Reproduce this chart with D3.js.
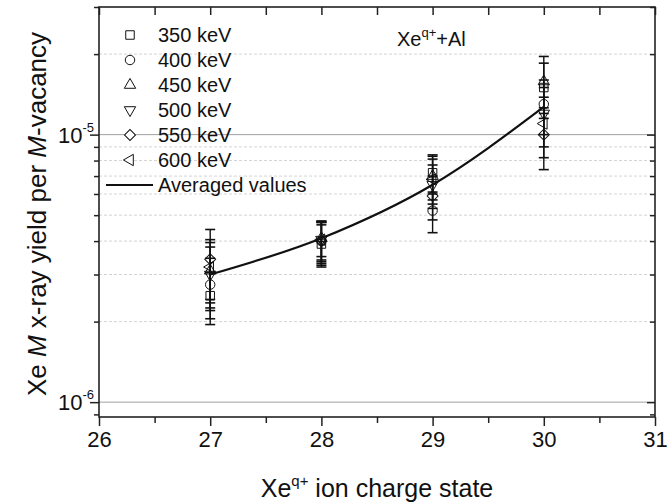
<!DOCTYPE html>
<html lang="en">
  <head>
    <meta charset="utf-8" />
    <title>Xe M x-ray yield</title>
    <script src="https://d3js.org/d3.v7.min.js"></script>
    <style>
      body { margin: 0; background: white; }
      text { font-family: "Liberation Sans", Arial, sans-serif; fill: #111; }
    </style>
  </head>
  <body>
    <svg width="668" height="504"></svg>
    <script>
      // data
      const charges = [27, 28, 29, 30];
      const energies = ["350 keV", "400 keV", "450 keV", "500 keV", "550 keV", "600 keV"];
      const yield350 = [2.5e-6, 3.9e-6, 7.2e-6, 1.5e-5];
      const yield400 = [2.75e-6, 4.0e-6, 5.2e-6, 1.3e-5];
      const yield450 = [3.1e-6, 4.1e-6, 7.0e-6, 1.58e-5];
      const yield500 = [3.0e-6, 4.05e-6, 6.5e-6, 1.2e-5];
      const yield550 = [3.42e-6, 4.0e-6, 5.9e-6, 1.0e-5];
      const yield600 = [3.2e-6, 4.05e-6, 6.8e-6, 1.1e-5];
      const err350 = [0.55e-6, 0.7e-6, 1.2e-6, 3.5e-6];
      const err400 = [0.7e-6, 0.7e-6, 0.9e-6, 3.0e-6];
      const err450 = [0.85e-6, 0.6e-6, 1.3e-6, 3.8e-6];
      const err500 = [0.8e-6, 0.7e-6, 1.2e-6, 3.0e-6];
      const err550 = [1.0e-6, 0.75e-6, 1.1e-6, 2.6e-6];
      const err600 = [0.85e-6, 0.65e-6, 1.3e-6, 2.8e-6];
      const averaged = [3.0e-6, 4.1e-6, 6.5e-6, 1.27e-5];

      const yields = [yield350, yield400, yield450, yield500, yield550, yield600];
      const errors = [err350, err400, err450, err500, err550, err600];

      const svg = d3.select("svg");
      const margin = { top: 7, right: 13, bottom: 87, left: 99 };
      const width = 668 - margin.left - margin.right,
        height = 504 - margin.top - margin.bottom;

      const g = svg.append("g")
        .attr("transform", "translate(" + margin.left + "," + margin.top + ")");

      const x = d3.scaleLinear().domain([26, 31]).range([0, width]);
      const y = d3.scaleLog().domain([8.8e-7, 3e-5]).range([height, 0]);

      const majorY = [1e-6, 1e-5];
      const minorY = [9e-7, 2e-6, 3e-6, 4e-6, 5e-6, 6e-6, 7e-6, 8e-6, 9e-6, 2e-5, 3e-5];

      // grid
      g.selectAll(".gminor").data(minorY.filter((d) => d > 1e-6 && d < 3e-5)).enter()
        .append("line")
        .attr("x1", 0).attr("x2", width)
        .attr("y1", (d) => y(d)).attr("y2", (d) => y(d))
        .attr("stroke", "#c8c8c8").attr("stroke-width", 0.8)
        .attr("stroke-dasharray", "3,2");
      g.selectAll(".gmajor").data(majorY).enter()
        .append("line")
        .attr("x1", 0).attr("x2", width)
        .attr("y1", (d) => y(d)).attr("y2", (d) => y(d))
        .attr("stroke", "#a0a0a0").attr("stroke-width", 1);

      // axes
      const xMajor = [26, 27, 28, 29, 30, 31];
      const xMinor = [26.5, 27.5, 28.5, 29.5, 30.5];

      const xBottom = g.append("g").attr("transform", "translate(0," + height + ")");
      xBottom.call(d3.axisBottom(x).tickValues(xMajor).tickSize(9).tickPadding(5)
        .tickFormat(d3.format("d")));
      xBottom.append("g").call(d3.axisBottom(x).tickValues(xMinor).tickSize(6).tickFormat(""));
      const xTop = g.append("g");
      xTop.call(d3.axisBottom(x).tickValues(xMajor.concat(xMinor)).tickSize(8).tickFormat(""));

      const yLeft = g.append("g");
      yLeft.call(d3.axisLeft(y).tickValues(majorY).tickSize(9).tickFormat(""));
      yLeft.append("g").call(d3.axisLeft(y).tickValues(minorY).tickSize(5).tickFormat(""));
      const yRight = g.append("g").attr("transform", "translate(" + width + ",0)");
      yRight.call(d3.axisLeft(y).tickValues(majorY).tickSize(8).tickFormat(""));
      yRight.append("g").call(d3.axisLeft(y).tickValues(minorY).tickSize(5).tickFormat(""));

      g.selectAll(".domain").remove();
      g.selectAll(".tick line").attr("stroke", "#222").attr("stroke-width", 1.5);
      xBottom.selectAll(".tick text")
        .attr("font-size", "22px").attr("font-family", "Liberation Sans, Arial, sans-serif")
        .attr("fill", "#111");

      // frame
      g.append("rect")
        .attr("width", width).attr("height", height)
        .attr("fill", "none").attr("stroke", "#222").attr("stroke-width", 1.6);

      // y tick labels with exponent
      const yLab = g.selectAll(".ylab").data(majorY).enter()
        .append("text")
        .attr("x", -5)
        .attr("y", (d) => y(d) + 8)
        .attr("text-anchor", "end")
        .attr("font-size", "22px");
      yLab.append("tspan").text("10");
      yLab.append("tspan")
        .attr("dy", -11).attr("font-size", "13px")
        .text((d) => String(Math.round(Math.log10(d))));

      // averaged line
      const line = d3.line()
        .x((d, i) => x(charges[i]))
        .y((d) => y(d))
        .curve(d3.curveMonotoneX);
      g.append("path")
        .datum(averaged)
        .attr("d", line)
        .attr("fill", "none")
        .attr("stroke", "#111")
        .attr("stroke-width", 2.2);

      // markers
      const shapes = [
        { type: d3.symbolSquare, size: 72, rot: 0 },
        { type: d3.symbolCircle, size: 70, rot: 0 },
        { type: d3.symbolTriangle, size: 56, rot: 0 },
        { type: d3.symbolTriangle, size: 56, rot: 180 },
        { type: d3.symbolSquare, size: 60, rot: 45 },
        { type: d3.symbolTriangle, size: 56, rot: -90 },
      ];

      yields.forEach((series, s) => {
        const sg = g.append("g");
        series.forEach((v, i) => {
          const cx = x(charges[i]);
          const hi = y(v + errors[s][i]), lo = y(v - errors[s][i]);
          sg.append("line")
            .attr("x1", cx).attr("x2", cx).attr("y1", hi).attr("y2", lo)
            .attr("stroke", "#111").attr("stroke-width", 1.4);
          [hi, lo].forEach((yy) => {
            sg.append("line")
              .attr("x1", cx - 5).attr("x2", cx + 5).attr("y1", yy).attr("y2", yy)
              .attr("stroke", "#111").attr("stroke-width", 1.6);
          });
        });
      });
      yields.forEach((series, s) => {
        const sh = shapes[s];
        g.append("g").selectAll("path").data(series).enter()
          .append("path")
          .attr("d", d3.symbol().type(sh.type).size(sh.size))
          .attr("transform", (d, i) =>
            "translate(" + x(charges[i]) + "," + y(d) + ") rotate(" + sh.rot + ")")
          .attr("fill", "none")
          .attr("stroke", "#111")
          .attr("stroke-width", 1);
      });

      // legend
      const leg = svg.append("g");
      energies.forEach((name, i) => {
        const sh = shapes[i];
        const ly = 35 + i * 25;
        leg.append("path")
          .attr("d", d3.symbol().type(sh.type).size(sh.size))
          .attr("transform", "translate(130," + ly + ") rotate(" + sh.rot + ")")
          .attr("fill", "white").attr("stroke", "#111").attr("stroke-width", 1);
        leg.append("text")
          .attr("x", 158).attr("y", ly + 7)
          .attr("font-size", "20px")
          .text(name);
      });
      leg.append("line")
        .attr("x1", 106).attr("x2", 153).attr("y1", 185).attr("y2", 185)
        .attr("stroke", "#111").attr("stroke-width", 2.2);
      leg.append("text")
        .attr("x", 158).attr("y", 192)
        .attr("font-size", "20px")
        .text("Averaged values");

      // annotation
      const ann = svg.append("text").attr("x", 397).attr("y", 46).attr("font-size", "20px");
      ann.append("tspan").text("Xe");
      ann.append("tspan").attr("dy", -9).attr("font-size", "13px").text("q+");
      ann.append("tspan").attr("dy", 9).text("+Al");

      // axis titles
      const xt = svg.append("text")
        .attr("x", margin.left + width / 2)
        .attr("y", 497)
        .attr("text-anchor", "middle")
        .attr("font-size", "25px");
      xt.append("tspan").text("Xe");
      xt.append("tspan").attr("dy", -11).attr("font-size", "15px").text("q+");
      xt.append("tspan").attr("dy", 11).text(" ion charge state");

      const yt = svg.append("text")
        .attr("transform", "translate(46," + (margin.top + height / 2 + 2) + ") rotate(-90)")
        .attr("text-anchor", "middle")
        .attr("font-size", "26px");
      yt.append("tspan").text("Xe ");
      yt.append("tspan").attr("font-style", "italic").text("M");
      yt.append("tspan").text(" x-ray yield per ");
      yt.append("tspan").attr("font-style", "italic").text("M");
      yt.append("tspan").text("-vacancy");
    </script>
  </body>
</html>
